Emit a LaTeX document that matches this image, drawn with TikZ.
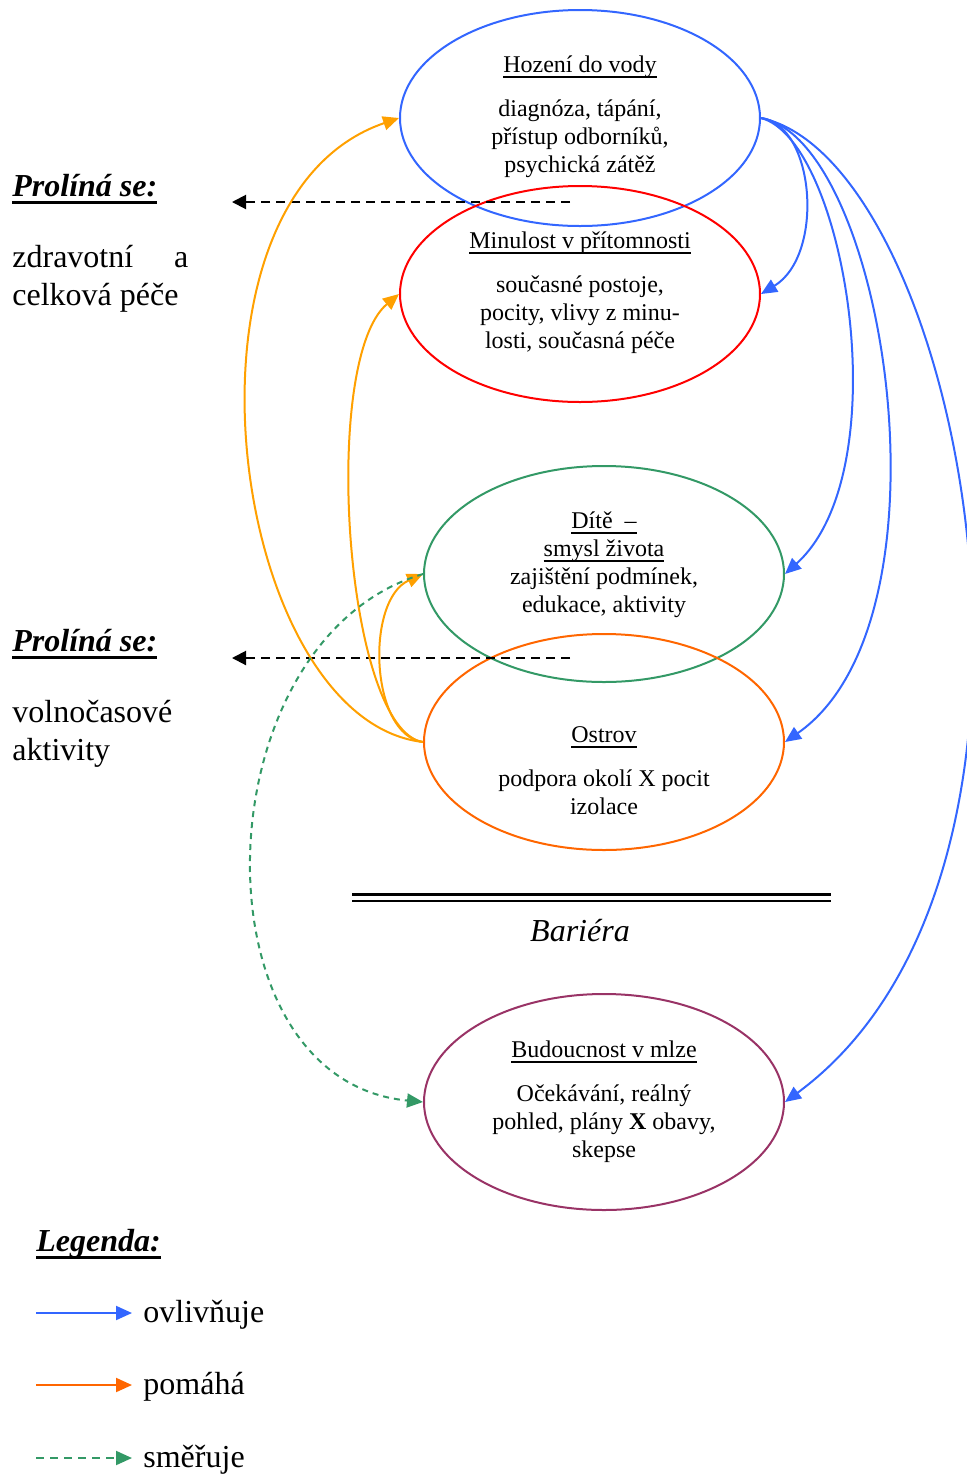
\documentclass[tikz,border=0pt]{standalone}
\usepackage{fontspec}
\setmainfont{Liberation Serif}
\usetikzlibrary{shapes.geometric,arrows.meta}
\definecolor{vlivblue}{RGB}{51,102,255}
\definecolor{pomocamber}{RGB}{255,160,0}
\definecolor{pomocorange}{RGB}{255,102,0}
\definecolor{smergreen}{RGB}{51,153,102}
\definecolor{minred}{RGB}{255,0,0}
\definecolor{budpurple}{RGB}{153,51,102}
\newsavebox{\myulbox}
\newcommand{\ulw}[3]{\sbox\myulbox{#3}\rlap{\raisebox{-#2}{\rule{\wd\myulbox}{#1}}}\usebox\myulbox}
\newcommand{\titul}[1]{\ulw{1pt}{2.6pt}{#1}}
\newcommand{\nadpis}[1]{\ulw{1.6pt}{4pt}{\textbf{\textit{#1}}}}
\begin{document}
\begin{tikzpicture}[x=0.5pt, y=-0.5pt, >={Triangle[length=8pt,width=7pt]},
  oval/.style={ellipse, line width=1pt, minimum width=180pt, minimum height=108pt, inner sep=0pt},
  txt/.style={align=center, font=\fontsize{12}{14}\selectfont, inner sep=0pt},
  side/.style={font=\fontsize{16}{19}\selectfont, inner sep=0pt, anchor=west},
  vliv/.style={->, vlivblue, line width=1pt},
  pomoc/.style={->, pomocamber, line width=1pt},
  smer/.style={->, smergreen, line width=1pt, dash pattern=on 3pt off 2.5pt},
  prolin/.style={-{Triangle[length=7pt,width=7pt]}, line width=1pt, dash pattern=on 4.5pt off 3pt}]
\useasboundingbox (0,0) rectangle (967,1474);

% ovals
\node[oval, draw=vlivblue] (hoz) at (580,118) {};
\node[oval, draw=minred] (min) at (580,294) {};
\node[oval, draw=smergreen] (dit) at (604,574) {};
\node[oval, draw=pomocorange] (ost) at (604,742) {};
\node[oval, draw=budpurple] (bud) at (604,1102) {};

\node[txt] (hoztxt) at (580,117) {\titul{Hození do vody}\\[8pt] diagnóza, tápání,\\ přístup odborníků,\\ psychická zátěž};
\node[txt] (mintxt) at (580,293) {\titul{Minulost v přítomnosti}\\[8pt] současné postoje,\\ pocity, vlivy z minu-\\ losti, současná péče};
\node[txt] (dittxt) at (604,565) {\titul{Dítě~~–}\\ \titul{smysl života}\\ zajištění podmínek,\\ edukace, aktivity};
\node[txt] (osttxt) at (604,771) {\titul{Ostrov}\\[8pt] podpora okolí X pocit\\ izolace};
\node[txt] (budtxt) at (604,1102) {\titul{Budoucnost v mlze}\\[8pt] Očekávání, reálný\\ pohled, plány \textbf{X} obavy,\\ skepse};

% left side
\node[side] (pro1) at (12,189) {\nadpis{Prolíná se:}};
\node[side] (zdr) at (12,279) {\parbox{88pt}{zdravotní\hfill a\\ celková péče}};
\node[side] (pro2) at (12,644) {\nadpis{Prolíná se:}};
\node[side] (voln) at (12,734) {\parbox{100pt}{volnočasové\\ aktivity}};

\coordinate (d1s) at (570,202);
\coordinate (d1e) at (232,202);
\coordinate (d2s) at (570,658);
\coordinate (d2e) at (232,658);
\draw[prolin] (d1s) -- (d1e);
\draw[prolin] (d2s) -- (d2e);

% influences
\draw[vliv] (hoz.east) .. controls (815,125) and (825,255) .. (min.east);
\draw[vliv] (hoz.east) .. controls (845,140) and (900,470) .. (dit.east);
\draw[vliv] (hoz.east) .. controls (885,140) and (960,620) .. (ost.east);
\draw[vliv] (hoz.east) .. controls (960,160) and (1100,870) .. (bud.east);

\draw[pomoc] (ost.west) .. controls (230,720) and (160,200) .. (hoz.west);
\draw[pomoc] (ost.west) .. controls (345,730) and (320,360) .. (min.west);
\draw[pomoc] (ost.west) .. controls (370,735) and (365,600) .. (dit.west);

\draw[smer] (dit.west) .. controls (200,640) and (190,1080) .. (bud.west);

% barrier
\coordinate (b1) at (352,894);
\coordinate (b2) at (831,894);
\coordinate (b3) at (352,900.5);
\coordinate (b4) at (831,900.5);
\draw[line width=1.5pt] (b1) -- (b2);
\draw[line width=1pt] (b3) -- (b4);
\node[font=\fontsize{16}{19}\selectfont\itshape, inner sep=0pt] (bar) at (580,931) {Bariéra};

% legend
\node[side] (leg) at (36,1244) {\nadpis{Legenda:}};
\coordinate (l1a) at (36,1313); \coordinate (l1b) at (132,1313);
\coordinate (l2a) at (36,1385); \coordinate (l2b) at (132,1385);
\coordinate (l3a) at (36,1458); \coordinate (l3b) at (132,1458);
\draw[vliv] (l1a) -- (l1b);
\draw[->, pomocorange, line width=1pt] (l2a) -- (l2b);
\draw[smer, dash pattern=on 4pt off 3pt] (l3a) -- (l3b);
\node[side] (ovl) at (143,1315) {ovlivňuje};
\node[side] (pom) at (143,1387) {pomáhá};
\node[side] (smr) at (143,1460) {směřuje};
\end{tikzpicture}
\end{document}
